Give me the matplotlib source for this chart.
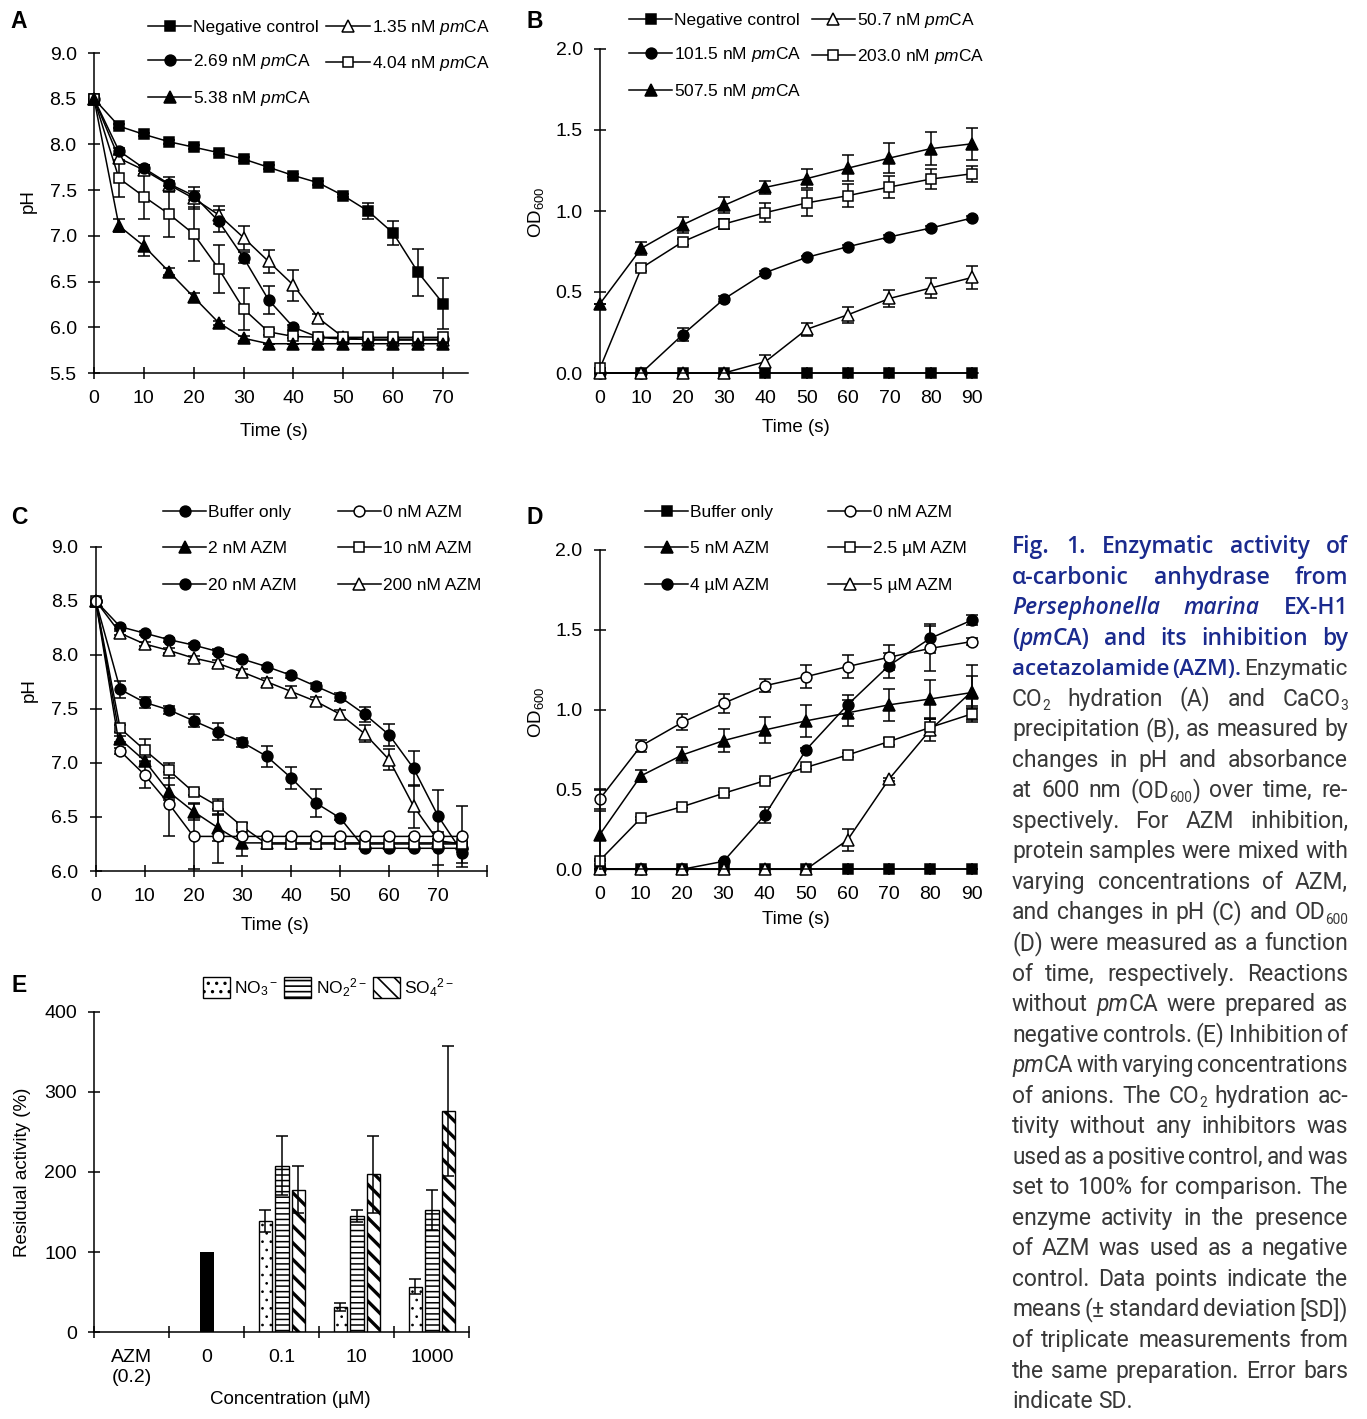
import matplotlib
matplotlib.use("Agg")
import matplotlib.pyplot as plt
import numpy as np
from matplotlib.lines import Line2D
from matplotlib.patches import Patch

plt.rcParams.update({
    "font.family": ["Liberation Sans", "DejaVu Sans"],
    "font.size": 12,
    "mathtext.fontset": "custom",
    "mathtext.rm": "Liberation Sans",
    "mathtext.it": "Liberation Sans:italic",
    "mathtext.bf": "Liberation Sans:bold",
    "mathtext.default": "regular",
    "hatch.linewidth": 1.2,
    "axes.linewidth": 1.1,
})

# ---------------- data: panel A (pH, CO2 hydration) ----------------
a_time = [0, 5, 10, 15, 20, 25, 30, 35, 40, 45, 50, 55, 60, 65, 70]
a_neg = [8.5, 8.20, 8.11, 8.03, 7.97, 7.91, 7.84, 7.75, 7.66, 7.58, 7.44, 7.27, 7.03, 6.60, 6.26]
a_neg_sd = [0, 0.02, 0.02, 0.02, 0.02, 0.02, 0.02, 0.02, 0.02, 0.02, 0.02, 0.09, 0.13, 0.26, 0.28]
a_135 = [8.5, 7.85, 7.72, 7.56, 7.41, 7.23, 6.98, 6.72, 6.46, 6.10, 5.89, 5.86, 5.86, 5.86, 5.86]
a_135_sd = [0, 0.03, 0.05, 0.08, 0.12, 0.10, 0.13, 0.13, 0.17, 0.04, 0.02, 0, 0, 0, 0]
a_269 = [8.5, 7.93, 7.74, 7.57, 7.44, 7.16, 6.76, 6.30, 6.00, 5.89, 5.87, 5.87, 5.87, 5.87, 5.87]
a_269_sd = [0, 0.03, 0.03, 0.03, 0.05, 0.12, 0.06, 0.15, 0.03, 0.02, 0, 0, 0, 0, 0]
a_404 = [8.5, 7.63, 7.43, 7.24, 7.02, 6.64, 6.20, 5.95, 5.90, 5.89, 5.89, 5.89, 5.89, 5.89, 5.89]
a_404_sd = [0, 0.20, 0.25, 0.25, 0.30, 0.26, 0.23, 0.03, 0.02, 0, 0, 0, 0, 0, 0]
a_538 = [8.5, 7.11, 6.89, 6.61, 6.33, 6.05, 5.88, 5.82, 5.82, 5.82, 5.82, 5.82, 5.82, 5.82, 5.82]
a_538_sd = [0, 0.07, 0.11, 0.04, 0.05, 0.02, 0.03, 0, 0, 0, 0, 0, 0, 0, 0]

# ---------------- data: panel B (OD600, CaCO3 precipitation) ----------------
b_time = [0, 10, 20, 30, 40, 50, 60, 70, 80, 90]
b_neg = [0, 0, 0, 0, 0, 0, 0, 0, 0, 0]
b_507 = [0, 0, 0, 0, 0.07, 0.27, 0.36, 0.46, 0.525, 0.59]
b_507_sd = [0, 0, 0, 0, 0.04, 0.04, 0.05, 0.05, 0.06, 0.07]
b_1015 = [0, 0, 0.237, 0.457, 0.62, 0.714, 0.78, 0.84, 0.895, 0.957]
b_1015_sd = [0, 0, 0.04, 0.02, 0.01, 0.01, 0.01, 0.01, 0.01, 0.01]
b_2030 = [0.03, 0.648, 0.81, 0.92, 0.99, 1.05, 1.095, 1.148, 1.197, 1.23]
b_2030_sd = [0, 0.02, 0.02, 0.03, 0.06, 0.08, 0.07, 0.07, 0.06, 0.05]
b_5075 = [0.428, 0.77, 0.915, 1.035, 1.146, 1.20, 1.265, 1.327, 1.385, 1.415]
b_5075_sd = [0, 0.04, 0.05, 0.05, 0.04, 0.06, 0.08, 0.09, 0.10, 0.10]

# ---------------- data: panel C (pH with AZM) ----------------
c_time = [0, 5, 10, 15, 20, 25, 30, 35, 40, 45, 50, 55, 60, 65, 70, 75]
c_buf = [8.5, 8.26, 8.20, 8.14, 8.09, 8.03, 7.96, 7.89, 7.81, 7.71, 7.61, 7.45, 7.26, 6.95, 6.51, 6.17]
c_buf_sd = [0, 0.02, 0.02, 0.02, 0.02, 0.02, 0.02, 0.02, 0.02, 0.03, 0.04, 0.07, 0.10, 0.16, 0.24, 0.10]
c_0 = [8.5, 7.11, 6.89, 6.62, 6.32, 6.32, 6.32, 6.32, 6.32, 6.32, 6.32, 6.32, 6.32, 6.32, 6.32, 6.32]
c_0_sd = [0, 0.03, 0.12, 0.30, 0.30, 0.25, 0, 0, 0, 0, 0, 0, 0, 0, 0, 0.28]
c_2 = [8.5, 7.22, 7.02, 6.73, 6.55, 6.40, 6.26, 6.26, 6.26, 6.26, 6.26, 6.26, 6.26, 6.26, 6.26, 6.26]
c_2_sd = [0, 0.03, 0.03, 0.07, 0.08, 0.12, 0.12, 0, 0, 0, 0, 0, 0, 0, 0, 0]
c_10 = [8.5, 7.32, 7.12, 6.93, 6.73, 6.60, 6.41, 6.25, 6.25, 6.25, 6.25, 6.25, 6.25, 6.25, 6.25, 6.25]
c_10_sd = [0, 0.03, 0.10, 0.07, 0.03, 0.07, 0.03, 0, 0, 0, 0, 0, 0, 0, 0, 0]
c_20 = [8.5, 7.68, 7.56, 7.49, 7.39, 7.29, 7.19, 7.06, 6.86, 6.63, 6.49, 6.21, 6.21, 6.21, 6.21, 6.21]
c_20_sd = [0, 0.08, 0.05, 0.04, 0.06, 0.08, 0.04, 0.10, 0.10, 0.13, 0.02, 0, 0, 0, 0.15, 0.03]
c_200 = [8.5, 8.20, 8.10, 8.04, 7.97, 7.92, 7.84, 7.75, 7.66, 7.57, 7.45, 7.27, 7.03, 6.60, 6.28, 6.25]
c_200_sd = [0, 0.02, 0.02, 0.02, 0.02, 0.03, 0.03, 0.04, 0.05, 0.04, 0.04, 0.08, 0.10, 0.20, 0.02, 0.02]

# ---------------- data: panel D (OD600 with AZM) ----------------
d_time = [0, 10, 20, 30, 40, 50, 60, 70, 80, 90]
d_buf = [0, 0, 0, 0, 0, 0, 0, 0, 0, 0]
d_0 = [0.438, 0.772, 0.92, 1.04, 1.15, 1.207, 1.27, 1.328, 1.384, 1.426]
d_0_sd = [0.06, 0.04, 0.05, 0.06, 0.04, 0.07, 0.07, 0.08, 0.14, 0.02]
d_5n = [0.215, 0.585, 0.716, 0.806, 0.873, 0.93, 0.98, 1.03, 1.067, 1.107]
d_5n_sd = [0.15, 0.04, 0.05, 0.07, 0.08, 0.10, 0.08, 0.10, 0.12, 0.17]
d_25u = [0.054, 0.32, 0.392, 0.476, 0.555, 0.639, 0.716, 0.80, 0.889, 0.973]
d_25u_sd = [0, 0.01, 0.01, 0.01, 0.01, 0.01, 0.01, 0.02, 0.05, 0.05]
d_4u = [0, 0, 0, 0.05, 0.34, 0.75, 1.03, 1.276, 1.447, 1.56]
d_4u_sd = [0, 0, 0, 0, 0.05, 0.01, 0.06, 0.08, 0.09, 0.03]
d_5u = [0, 0, 0, 0, 0, 0, 0.184, 0.564, 0.873, 1.113]
d_5u_sd = [0, 0, 0, 0, 0, 0, 0.07, 0.01, 0.07, 0.10]

# ---------------- data: panel E (anion inhibition) ----------------
e_categories = ["AZM\n(0.2)", "0", "0.1", "10", "1000"]
e_controls = [0, 100]
e_no3 = [139, 32, 57]
e_no3_sd = [14, 5, 9]
e_no2 = [208, 145, 153]
e_no2_sd = [37, 8, 25]
e_so4 = [178, 197, 276]
e_so4_sd = [29, 48, 81]

W, H = 1367, 1419
fig = plt.figure(figsize=(W / 100, H / 100), dpi=100)

MS = {"s": 7.2, "o": 7.8, "^": 8.2}
TICK_FS = 14
LABEL_FS = 13.5
LEG_FS = 12.5


def add_axes(box):
    left, top, right, bottom = box
    return fig.add_axes([left / W, 1 - bottom / H, (right - left) / W, (bottom - top) / H])


def style(ax):
    ax.spines["top"].set_visible(False)
    ax.spines["right"].set_visible(False)
    ax.tick_params(direction="inout", length=9, width=1.1, labelsize=TICK_FS)
    ax.tick_params(axis="x", pad=7.5)
    ax.tick_params(axis="y", pad=8)


def labels(ax, box, xlabel, xpos, ylabel, ypos):
    left, top, right, bottom = box
    ax.set_xlabel(xlabel, fontsize=LABEL_FS)
    ax.xaxis.set_label_coords((xpos[0] - left) / (right - left), (bottom - xpos[1]) / (bottom - top))
    ax.xaxis.label.set_va("center")
    ax.set_ylabel(ylabel, fontsize=LABEL_FS)
    ax.yaxis.set_label_coords((ypos[0] - left) / (right - left), (bottom - ypos[1]) / (bottom - top))
    ax.yaxis.label.set_va("center")
    ax.yaxis.label.set_ha("center")


def series(ax, x, y, sd, marker, filled):
    ax.errorbar(x, y, yerr=sd, color="black", lw=1.1, marker=marker, ms=MS[marker],
                mfc="black" if filled else "white", mec="black", mew=1.1,
                capsize=4, capthick=1.1, elinewidth=1.1, clip_on=False)


def legend(entries, x, y, colsp, rowsp):
    handles = [Line2D([], [], color="black", lw=1.1, marker=m, ms=MS[m],
                      mfc="black" if f else "white", mec="black", mew=1.1)
               for _, m, f in entries]
    fig.legend(handles, [lab for lab, _, _ in entries], loc="upper left",
               bbox_to_anchor=(x / W, 1 - y / H), bbox_transform=fig.transFigure,
               ncol=2, frameon=False, fontsize=LEG_FS, handlelength=2.5,
               handletextpad=0.12, columnspacing=colsp, labelspacing=rowsp,
               borderpad=0, borderaxespad=0, numpoints=1)


def letter(x, y, s):
    fig.text(x / W, 1 - y / H, s, fontsize=16.5, fontweight="bold", ha="center", va="center")


pm = r"$\mathit{pm}$CA"

# ---------------- panel A ----------------
box_a = (94, 53, 468, 373)
ax = add_axes(box_a)
style(ax)
series(ax, a_time, a_neg, a_neg_sd, "s", True)
series(ax, a_time, a_135, a_135_sd, "^", False)
series(ax, a_time, a_269, a_269_sd, "o", True)
series(ax, a_time, a_404, a_404_sd, "s", False)
series(ax, a_time, a_538, a_538_sd, "^", True)
ax.set_xlim(0, 75)
ax.set_ylim(5.5, 9.0)
ax.set_xticks([0, 10, 20, 30, 40, 50, 60, 70])
ax.set_yticks(np.arange(5.5, 9.01, 0.5))
ax.yaxis.set_major_formatter("{x:.1f}")
labels(ax, box_a, "Time (s)", (274, 431), "pH", (28, 201))
legend([("Negative control", "s", True), ("2.69 nM " + pm, "o", True), ("5.38 nM " + pm, "^", True),
        ("1.35 nM " + pm, "^", False), ("4.04 nM " + pm, "s", False)], 148, 18, 0.4, 1.0)
letter(19, 22, "A")

# ---------------- panel B ----------------
box_b = (600, 49, 978, 373)
ax = add_axes(box_b)
style(ax)
series(ax, b_time, b_1015, b_1015_sd, "o", True)
series(ax, b_time, b_neg, b_neg, "s", True)
series(ax, b_time, b_507, b_507_sd, "^", False)
series(ax, b_time, b_2030, b_2030_sd, "s", False)
series(ax, b_time, b_5075, b_5075_sd, "^", True)
ax.set_xlim(0, 91.4)
ax.set_ylim(0, 2.0)
ax.set_xticks(b_time)
ax.set_yticks([0, 0.5, 1.0, 1.5, 2.0])
ax.yaxis.set_major_formatter("{x:.1f}")
labels(ax, box_b, "Time (s)", (796, 427), "OD$_{600}$", (536, 212))
legend([("Negative control", "s", True), ("101.5 nM " + pm, "o", True), ("507.5 nM " + pm, "^", True),
        ("50.7 nM " + pm, "^", False), ("203.0 nM " + pm, "s", False)], 629, 11, 0.55, 1.0)
letter(535, 21, "B")

# ---------------- panel C ----------------
box_c = (95.7, 546.7, 486.9, 871)
ax = add_axes(box_c)
style(ax)
series(ax, c_time, c_buf, c_buf_sd, "o", True)
series(ax, c_time, c_20, c_20_sd, "o", True)
series(ax, c_time, c_200, c_200_sd, "^", False)
series(ax, c_time, c_2, c_2_sd, "^", True)
series(ax, c_time, c_10, c_10_sd, "s", False)
series(ax, c_time, c_0, c_0_sd, "o", False)
ax.set_xlim(0, 80)
ax.set_ylim(6.0, 9.0)
ax.set_xticks([0, 10, 20, 30, 40, 50, 60, 70, 80], ["0", "10", "20", "30", "40", "50", "60", "70", ""])
ax.set_yticks(np.arange(6.0, 9.01, 0.5))
ax.yaxis.set_major_formatter("{x:.1f}")
labels(ax, box_c, "Time (s)", (275, 926), "pH", (29, 690))
legend([("Buffer only", "o", True), ("2 nM AZM", "^", True), ("20 nM AZM", "o", True),
        ("0 nM AZM", "o", False), ("10 nM AZM", "s", False), ("200 nM AZM", "^", False)],
       163, 505, 2.33, 1.22)
letter(19, 517, "C")

# ---------------- panel D ----------------
box_d = (599.5, 550, 977, 869.3)
ax = add_axes(box_d)
style(ax)
series(ax, d_time, d_buf, d_buf, "s", True)
series(ax, d_time, d_4u, d_4u_sd, "o", True)
series(ax, d_time, d_5u, d_5u_sd, "^", False)
series(ax, d_time, d_25u, d_25u_sd, "s", False)
series(ax, d_time, d_5n, d_5n_sd, "^", True)
series(ax, d_time, d_0, d_0_sd, "o", False)
ax.set_xlim(0, 91.3)
ax.set_ylim(0, 2.0)
ax.set_xticks(d_time)
ax.set_yticks([0, 0.5, 1.0, 1.5, 2.0])
ax.yaxis.set_major_formatter("{x:.1f}")
labels(ax, box_d, "Time (s)", (796, 920), "OD$_{600}$", (536, 712))
legend([("Buffer only", "s", True), ("5 nM AZM", "^", True), ("4 µM AZM", "o", True),
        ("0 nM AZM", "o", False), ("2.5 µM AZM", "s", False), ("5 µM AZM", "^", False)],
       645, 505, 3.13, 1.22)
letter(535, 517, "D")

# ---------------- panel E ----------------
box_e = (94.3, 1011.7, 469.3, 1332.3)
ax = add_axes(box_e)
style(ax)
centers = np.arange(len(e_categories)) + 0.5
bw, off = 0.18, 0.22
ax.bar(centers[:2], e_controls, width=bw, color="black", lw=0)
anions = [("NO$_3$$^-$", e_no3, e_no3_sd, "..", 0.7),
          ("NO$_2$$^{2-}$", e_no2, e_no2_sd, "---", 1.1),
          ("SO$_4$$^{2-}$", e_so4, e_so4_sd, "\\\\", 2.4)]
handles = []
for j, (name, vals, sd, hatch, hlw) in enumerate(anions):
    xs = centers[2:] + (j - 1) * off
    with plt.rc_context({"hatch.linewidth": hlw}):
        bars = ax.bar(xs, vals, width=bw, facecolor="white", edgecolor="black", hatch=hatch, lw=1.0)
        patch = Patch(facecolor="white", edgecolor="black", hatch=hatch, lw=1.0, label=name)
    for p in list(bars) + [patch]:
        if hasattr(p, "set_hatch_linewidth"):
            p.set_hatch_linewidth(hlw)
    handles.append(patch)
    ax.errorbar(xs, vals, yerr=sd, fmt="none", ecolor="black", elinewidth=1.1, capsize=4, capthick=1.1)
ax.set_xlim(0, 5)
ax.set_ylim(0, 400)
ax.set_yticks([0, 100, 200, 300, 400])
ax.set_xticks(range(6), [""] * 6)
ax.set_xticks(centers, e_categories, minor=True)
ax.tick_params(axis="x", which="minor", length=0, pad=12, labelsize=TICK_FS)
labels(ax, box_e, "Concentration (µM)", (290, 1400), "Residual activity (%)", (22, 1172))
fig.legend(handles=handles, loc="upper left", bbox_to_anchor=(203 / W, 1 - 976 / H),
           bbox_transform=fig.transFigure, ncol=3, frameon=False, fontsize=LEG_FS,
           handlelength=1.55, handleheight=1.45, handletextpad=0.25, columnspacing=0.35,
           borderpad=0, borderaxespad=0)
letter(19, 986, "E")

# ---------------- caption ----------------
BLUE = "#1a2a8e"
GRAY = "#383838"
CAP_FS = 16.5
CAP_LEFT, CAP_RIGHT = 1012, 1348
CAP_BASE0, CAP_STEP = 553, 30.54
cap_lines = [
    [("B", "Fig. 1. Enzymatic activity of")],
    [("B", "α-carbonic anhydrase from")],
    [("BI", "Persephonella marina"), ("B", " EX-H1")],
    [("B", "("), ("BI", "pm"), ("B", "CA) and its inhibition by")],
    [("B", "acetazolamide (AZM)."), ("N", " Enzymatic")],
    [("N", "CO"), ("S", "2"), ("N", " hydration (A) and CaCO"), ("S", "3")],
    [("N", "precipitation (B), as measured by")],
    [("N", "changes in pH and absorbance")],
    [("N", "at 600 nm (OD"), ("S", "600"), ("N", ") over time, re-")],
    [("N", "spectively. For AZM inhibition,")],
    [("N", "protein samples were mixed with")],
    [("N", "varying concentrations of AZM,")],
    [("N", "and changes in pH (C) and OD"), ("S", "600")],
    [("N", "(D) were measured as a function")],
    [("N", "of time, respectively. Reactions")],
    [("N", "without "), ("I", "pm"), ("N", "CA were prepared as")],
    [("N", "negative controls. (E) Inhibition of")],
    [("I", "pm"), ("N", "CA with varying concentrations")],
    [("N", "of anions. The CO"), ("S", "2"), ("N", " hydration ac-")],
    [("N", "tivity without any inhibitors was")],
    [("N", "used as a positive control, and was")],
    [("N", "set to 100% for comparison. The")],
    [("N", "enzyme activity in the presence")],
    [("N", "of AZM was used as a negative")],
    [("N", "control. Data points indicate the")],
    [("N", "means (± standard deviation [SD])")],
    [("N", "of triplicate measurements from")],
    [("N", "the same preparation. Error bars")],
    [("N", "indicate SD.")],
]


def run_props(style_key, fs):
    props = dict(family=["Roboto", "DejaVu Sans"], fontsize=fs, color=GRAY)
    if style_key in ("B", "BI"):
        props.update(family=["Open Sans", "DejaVu Sans"], fontweight="semibold", color=BLUE)
    if style_key in ("BI", "I"):
        props.update(style="italic")
    if style_key == "S":
        props.update(fontsize=fs * 0.6)
    return props


renderer = fig.canvas.get_renderer()


def width(s, props):
    t = fig.text(0, 0, s, **props)
    w = t.get_window_extent(renderer).width
    t.remove()
    return w


def split_words(runs):
    words = [[]]
    for key, txt in runs:
        parts = txt.split(" ")
        for k, p in enumerate(parts):
            if k > 0:
                words.append([])
            if p:
                words[-1].append((key, p))
    return [w for w in words if w]


for i, runs in enumerate(cap_lines):
    words = split_words(runs)
    fs = CAP_FS
    ww = [[width(p, run_props(k, fs)) for k, p in w] for w in words]
    total = sum(sum(w) for w in ww)
    space = width("a a", run_props("N", fs)) - width("aa", run_props("N", fs))
    last = i == len(cap_lines) - 1
    avail = CAP_RIGHT - CAP_LEFT
    if not last and total + 0.6 * space * (len(words) - 1) > avail:
        fs = fs * (avail - 0.6 * space * (len(words) - 1)) / total
        ww = [[width(p, run_props(k, fs)) for k, p in w] for w in words]
        total = sum(sum(w) for w in ww)
    gap = space if last else (avail - total) / (len(words) - 1)
    x = CAP_LEFT
    yb = CAP_BASE0 + i * CAP_STEP
    for w, wl in zip(words, ww):
        for (k, p), pw in zip(w, wl):
            dy = 0.2 * fs * 100 / 72 if k == "S" else 0
            fig.text(x / W, 1 - (yb + dy) / H, p, ha="left", va="baseline", **run_props(k, fs))
            x += pw
        x += gap

fig.savefig("out.png", dpi=100)
